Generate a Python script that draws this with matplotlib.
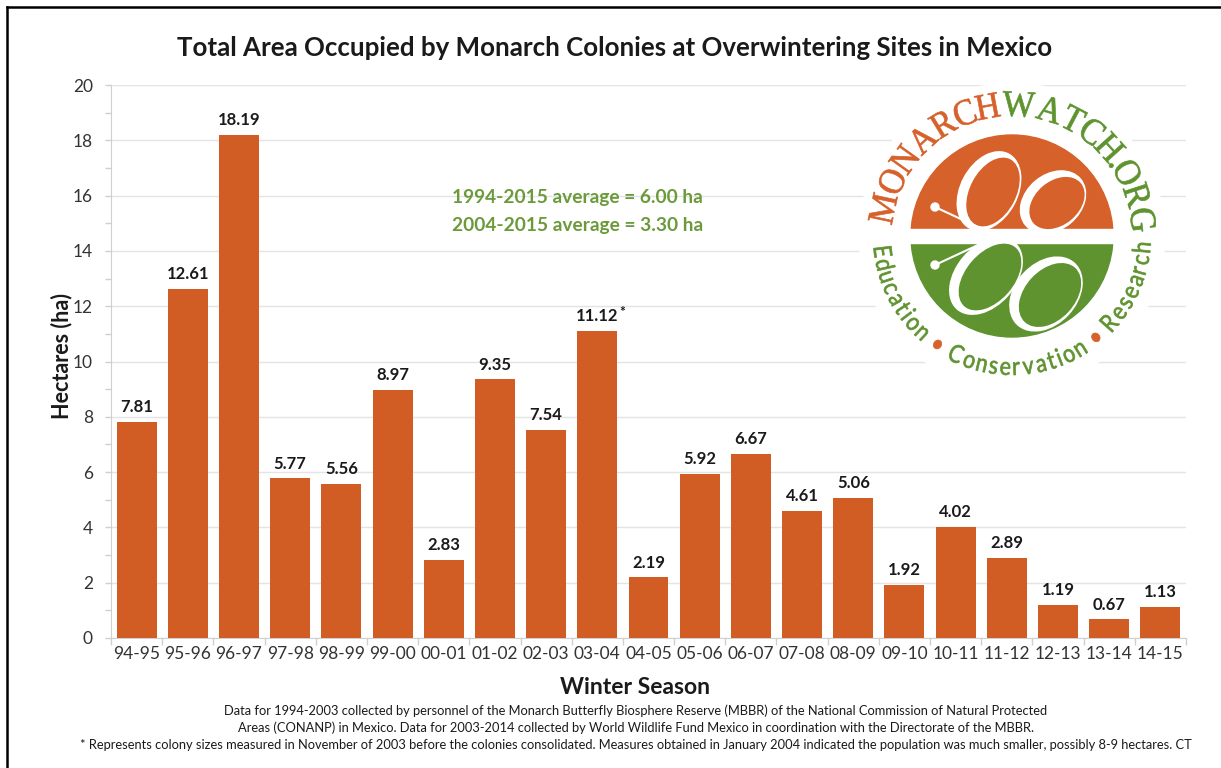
import numpy as np
import matplotlib
matplotlib.use("Agg")
import matplotlib.pyplot as plt
from matplotlib.patches import Circle, Wedge, Ellipse, PathPatch, Rectangle
from matplotlib.textpath import TextPath
from matplotlib.font_manager import FontProperties
import matplotlib.transforms as mtransforms
from matplotlib.lines import Line2D
from matplotlib.ticker import MultipleLocator, FixedLocator

plt.rcParams['font.family'] = ['Lato', 'DejaVu Sans']

seasons = ['94-95', '95-96', '96-97', '97-98', '98-99', '99-00', '00-01', '01-02',
           '02-03', '03-04', '04-05', '05-06', '06-07', '07-08', '08-09', '09-10',
           '10-11', '11-12', '12-13', '13-14', '14-15']
hectares = [7.81, 12.61, 18.19, 5.77, 5.56, 8.97, 2.83, 9.35, 7.54, 11.12, 2.19,
            5.92, 6.67, 4.61, 5.06, 1.92, 4.02, 2.89, 1.19, 0.67, 1.13]
notes = ['', '', '', '', '', '', '', '', '', '*', '', '', '', '', '', '', '', '', '', '', '']

title = "Total Area Occupied by Monarch Colonies at Overwintering Sites in Mexico"
avg_lines = ["1994-2015 average = 6.00 ha", "2004-2015 average = 3.30 ha"]
footnotes = [
    "Data for 1994-2003 collected by personnel of the Monarch Butterfly Biosphere Reserve (MBBR) of the National Commission of Natural Protected",
    "Areas (CONANP) in Mexico. Data for 2003-2014 collected by World Wildlife Fund Mexico in coordination with the Directorate of the MBBR.",
    "* Represents colony sizes measured in November of 2003 before the colonies consolidated. Measures obtained in January 2004 indicated the population was much smaller, possibly 8-9 hectares. CT",
]

BAR = '#D15C24'
GREEN = '#6B9A3B'
LOGO_OR = '#D6612B'
LOGO_GR = '#5F9330'
W, H = 1221, 768

fig = plt.figure(figsize=(W / 100, H / 100), dpi=100)
fig.patch.set_facecolor('white')
ax = fig.add_axes([111 / W, 1 - 638 / H, 1075 / W, 553 / H])

x = np.arange(len(seasons))
ax.bar(x, hectares, width=0.78, color=BAR, zorder=3)
for xi, v, n in zip(x, hectares, notes):
    ax.annotate(f"{v:.2f}", (xi, v), xytext=(0, 5), textcoords='offset points',
                ha='center', va='bottom', fontsize=12, fontweight='bold', color='#1a1a1a')
    if n:
        ax.annotate(n, (xi, v), xytext=(18, 13), textcoords='offset points',
                    ha='center', va='center', fontsize=10, fontweight='bold', color='#1a1a1a')

ax.set_xlim(-0.5, len(seasons) - 0.5)
ax.set_ylim(0, 20)
ax.yaxis.set_major_locator(MultipleLocator(2))
ax.yaxis.set_minor_locator(MultipleLocator(1))
ax.set_xticks(x)
ax.set_xticklabels(seasons)
ax.xaxis.set_minor_locator(FixedLocator(np.arange(-0.5, len(seasons), 1.0)))
ax.tick_params(axis='x', which='major', length=0, labelsize=12.5, labelcolor='#333333', pad=6)
ax.tick_params(axis='x', which='minor', length=5, color='#d0d0d0', width=1)
ax.tick_params(axis='y', which='both', length=4, color='#d0d0d0', width=1,
               labelsize=12.5, labelcolor='#333333', pad=9)
ax.grid(axis='y', which='major', color='#e4e4e4', lw=1, zorder=0)
for s in ['top', 'right']:
    ax.spines[s].set_visible(False)
for s in ['left', 'bottom']:
    ax.spines[s].set_color('#d0d0d0')

fig.text(615 / W, 1 - 48 / H, title, ha='center', va='center', fontsize=18.6, fontweight='bold', color='#1a1a1a')
fig.text(62 / W, 1 - 356 / H, "Hectares (ha)", ha='center', va='center', rotation=90,
         fontsize=15.5, fontweight='bold', color='#1a1a1a')
fig.text(635 / W, 1 - 688 / H, "Winter Season", ha='center', va='center',
         fontsize=16.5, fontweight='bold', color='#1a1a1a')
for i, line in enumerate(avg_lines):
    fig.text(452 / W, 1 - (198 + 28 * i) / H, line, ha='left', va='center',
             fontsize=13.8, fontweight='bold', color=GREEN)
for i, line in enumerate(footnotes):
    fig.text(636 / W, 1 - (711 + 17 * i) / H, line, ha='center', va='center',
             fontsize=9.3, color='#1a1a1a')

# frame lines (left and top only, like the cropped screenshot)
fig.add_artist(Line2D([7 / W, 7 / W], [0, 1 - 7 / H], color='black', lw=1.8))
fig.add_artist(Line2D([7 / W, 1], [1 - 7 / H, 1 - 7 / H], color='black', lw=1.8))

# ---- logo overlay, in pixel coordinates ----
lx = fig.add_axes([0, 0, 1, 1], zorder=5)
lx.set_xlim(0, W)
lx.set_ylim(0, H)
lx.axis('off')

cx, cy = 1012, H - 236
lx.add_patch(Circle((cx, cy), 153, color='white', zorder=1))
disc = Circle((cx, cy), 101, transform=lx.transData)
lx.add_patch(Wedge((cx, cy), 101, 0, 180, color=LOGO_OR, zorder=2))
lx.add_patch(Wedge((cx, cy), 101, 180, 360, color=LOGO_GR, zorder=2))
lx.add_patch(Rectangle((cx - 110, cy - 7), 220, 14, color='white', zorder=3))

# butterfly wings: coloured lobes outlined in white
lobes = [((993, 192), 74, 46, 62, LOGO_OR), ((1057, 203), 62, 44, 40, LOGO_OR),
         ((990, 277), 78, 48, 49, LOGO_GR), ((1050, 295), 74, 50, 47, LOGO_GR)]
for (ex, ey), w, h, ang, col in lobes:
    back = Ellipse((ex - 4, H - ey + 1), w + 11, h + 12, angle=ang, facecolor='white', lw=0, zorder=4)
    lx.add_patch(back)
    back.set_clip_path(disc)
for (ex, ey), w, h, ang, col in lobes:
    e = Ellipse((ex, H - ey), w, h, angle=ang, facecolor=col, lw=0, zorder=5)
    lx.add_patch(e)
    e.set_clip_path(disc)
for (x0, y0), (x1, y1) in [((935, 207), (978, 227)), ((935, 265), (978, 245))]:
    lx.plot([x0, x1], [H - y0, H - y1], color='white', lw=1.5, zorder=6)
    lx.add_patch(Circle((x0, H - y0), 4, color='white', zorder=6))


def arc_text(text, colors, r, a0, a1, size, fp, outward=True, xscale=1.0):
    paths = [TextPath((0, 0), ch, size=size, prop=fp) if ch.strip() else None for ch in text]
    exts = [p.get_extents() if p is not None else None for p in paths]
    widths = [e.width * xscale if e is not None else size * 0.15 for e in exts]
    span = r * np.radians(abs(a1 - a0))
    inner = sum(widths) - widths[0] / 2 - widths[-1] / 2
    gap = (span - inner) / (len(text) - 1)
    s = 0.0
    for i, (p, e) in enumerate(zip(paths, exts)):
        if i > 0:
            s += widths[i - 1] / 2 + gap + widths[i] / 2
        if p is None:
            continue
        th = a0 - np.degrees(s / r) if outward else a0 + np.degrees(s / r)
        rot = th - 90 if outward else th + 90
        px = cx + r * np.cos(np.radians(th))
        py = cy + r * np.sin(np.radians(th))
        tr = (mtransforms.Affine2D().translate(-(e.x0 + e.width / 2), 0)
              .scale(xscale, 1).rotate_deg(rot).translate(px, py))
        lx.add_patch(PathPatch(tr.transform_path(p), facecolor=colors[i], edgecolor=colors[i],
                               lw=0.5, zorder=7))


top_text = "MONARCHWATCH.ORG"
top_cols = [LOGO_OR] * 7 + [LOGO_GR] * 9
arc_text(top_text, top_cols, 120, 168, 7, 37, FontProperties(family='Liberation Serif'),
         outward=True, xscale=0.93)

bot_text = "Education \u2022 Conservation \u2022 Research"
bot_cols = [LOGO_OR if ch == '\u2022' else LOGO_GR for ch in bot_text]
arc_text(bot_text, bot_cols, 139, 187, 355, 25, FontProperties(family='Lato'), outward=False, xscale=0.85)

fig.savefig('out.png', dpi=100, facecolor='white')
